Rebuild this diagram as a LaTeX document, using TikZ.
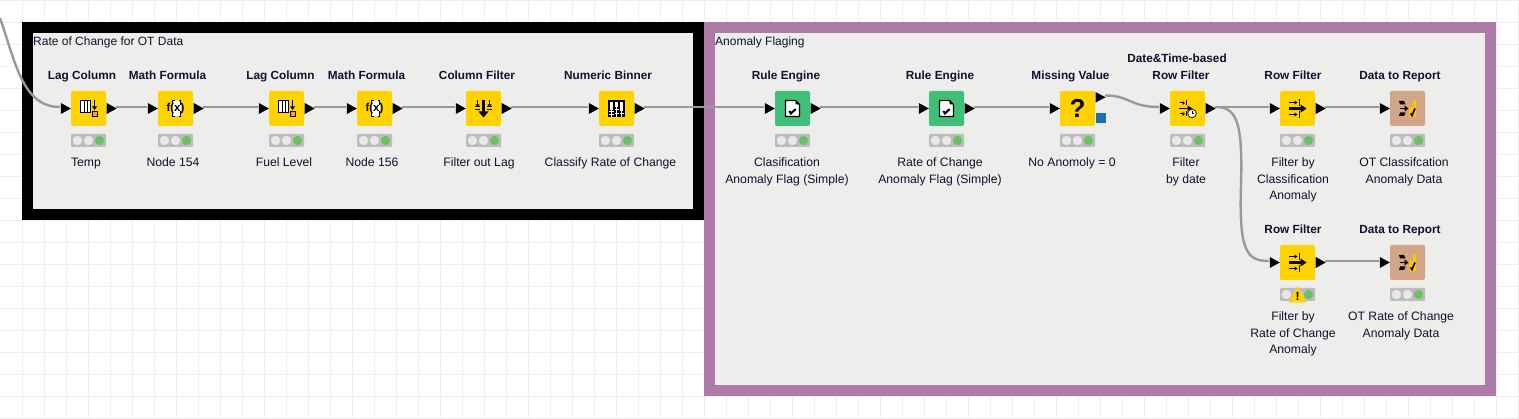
\documentclass[tikz,border=0pt]{standalone}
\usepackage{fontspec}
\setmainfont{Liberation Sans}
\usetikzlibrary{calc}
\definecolor{gridc}{HTML}{EEEEEE}
\definecolor{panelc}{HTML}{EDEDEB}
\definecolor{purplec}{HTML}{AE7BA8}
\definecolor{yellowc}{HTML}{FFD200}
\definecolor{greenc}{HTML}{40BF78}
\definecolor{brownc}{HTML}{D2A586}
\definecolor{wirec}{HTML}{999999}
\definecolor{lightc}{HTML}{BDBDBD}
\definecolor{lampc}{HTML}{E8E8E8}
\definecolor{lampg}{HTML}{6CC160}
\definecolor{orangec}{HTML}{F0A050}
\definecolor{portblue}{HTML}{1F6FB5}
\definecolor{textc}{HTML}{101030}
\tikzset{
  x=1pt,y=-1pt,
  knbox/.style={minimum size=35pt,inner sep=0pt,rounded corners=2pt,draw=none,anchor=center},
  title/.style={font=\bfseries\fontsize{11.8}{16}\selectfont,text=textc,align=center,inner sep=0pt,anchor=base},
  caption/.style={font=\fontsize{12.2}{16.5}\selectfont,text=textc,align=center,inner sep=0pt,anchor=north},
  annot/.style={font=\fontsize{12}{14}\selectfont,text=textc,inner sep=0pt,anchor=west},
  wire/.style={draw=wirec,line width=2.4pt},
}
% \knode{name}{cx}{cy}{colour}{icon macro}
\newcommand{\knode}[5]{%
  \node[knbox,fill=#4] (#1) at (#2,#3) {};
  \coordinate (#1-i) at ($(#1.west)+(-11,-1.5)$);
  \coordinate (#1-o) at ($(#1.east)+(10,-1.5)$);
  \fill[black] ($(#1.west)+(-10,-5.5)$) -- (#1.west) -- ($(#1.west)+(-10,5.5)$) -- cycle;
  \fill[lightc,rounded corners=1pt] ($(#1.center)+(-17.5,25.5)$) rectangle ($(#1.center)+(17.5,38.5)$);
  \fill[lampc] ($(#1.center)+(-11,32)$) circle (4.7);
  \fill[lampc] ($(#1.center)+(0,32)$) circle (4.7);
  \fill[lampg] ($(#1.center)+(11,32)$) circle (4.7);
  \begin{scope}[shift={(#1.center)}]#5\end{scope}
}
\newcommand{\kout}[1]{%
  \fill[black] ($(#1.east)+(0.5,-5.5)$) -- ($(#1.east)+(10.5,0)$) -- ($(#1.east)+(0.5,5.5)$) -- cycle;
}
\newcommand{\iconlag}{%
  \fill[black] (-8.5,-8.5) rectangle (2.5,4.5);
  \fill[white] (-7.5,-7.5) rectangle (-5,3.5);
  \fill[white] (-4,-7.5) rectangle (-1.5,3.5);
  \fill[white] (-0.5,-7.5) rectangle (1.5,3.5);
  \draw[black,line width=1pt] (6,-8.5) -- (6,-1);
  \fill[black] (3.5,-2) -- (8.5,-2) -- (6,1.5) -- cycle;
  \draw[black,fill=orangec,line width=.8pt] (3.5,3) rectangle (8.5,8);
}
\newcommand{\iconmath}{%
  \fill[white] (-3,-8) rectangle (5,8);
  \draw[black,line width=1.2pt] (-1,-8) -- (-3,-8) -- (-3,-3) (-1,8) -- (-3,8) -- (-3,3) (3,-8) -- (5,-8) -- (5,-3) (3,8) -- (5,8) -- (5,3);
  \node[font=\bfseries\fontsize{11.5}{12}\selectfont,inner sep=0pt,text=black] at (0,0) {f(x)};
}
\newcommand{\iconfilter}{%
  \fill[black] (-1.5,-8.5) rectangle (1.5,4);
  \fill[black] (-5,3) -- (5,3) -- (0,9) -- cycle;
  \draw[black,line width=1pt] (-8.5,-2) -- (-3.5,-2) (3.5,-2) -- (8.5,-2);
  \draw[black,line width=1pt] (-8.5,1) -- (-3.5,1) (3.5,1) -- (8.5,1);
  \draw[black,line width=1pt] (-6,-8) -- (-6,-3) (6,-8) -- (6,-3);
  \fill[black] (-8,-4) -- (-4,-4) -- (-6,-1.5) -- cycle;
  \fill[black] (8,-4) -- (4,-4) -- (6,-1.5) -- cycle;
}
\newcommand{\iconbinner}{%
  \fill[black] (-8.5,-8.5) rectangle (8.5,8.5);
  \fill[white] (-6.5,-6.5) rectangle (-3.5,1.5);
  \fill[white] (-1.5,-6.5) rectangle (1.5,-1);
  \fill[white] (3.5,-6.5) rectangle (6.5,3);
  \draw[white,line width=1pt] (-7.5,3) -- (-2.5,3) (-7.5,6) -- (-2.5,6) (-5,1) -- (-5,8.5);
  \draw[white,line width=1pt] (-1.5,1) -- (2.5,1) (-1.5,5) -- (2.5,5) (0,-1) -- (0,8.5);
  \draw[white,line width=1pt] (3.5,5) -- (7.5,5) (5,3) -- (5,8.5);
}
\newcommand{\iconrule}{%
  \draw[black,fill=white,line width=1.3pt] (-7,-8) -- (3,-8) -- (7,-4) -- (7,8) -- (-7,8) -- cycle;
  \fill[black] (3,-8) -- (7,-4) -- (3,-4) -- cycle;
  \draw[black,line width=2pt] (-3.2,2.5) -- (-1.5,5) -- (3.2,0.5);
}
\newcommand{\iconmissing}{%
  \node[font=\bfseries\fontsize{26}{26}\selectfont,inner sep=0pt,text=black] at (0,0) {?};
}
\newcommand{\iconrow}{%
  \draw[black,line width=1.3pt] (-8.7,-6) -- (-2,-6) (-8.7,6) -- (-2,6);
  \fill[black] (-3,-8) -- (0,-6) -- (-3,-4) -- cycle (-3,4) -- (0,6) -- (-3,8) -- cycle;
  \draw[black,line width=1.2pt] (2,-9.5) -- (2,-2.5) (2,2.5) -- (2,9.5);
  \draw[black,line width=2.4pt] (-8.7,0) -- (6,0);
  \fill[black] (3,-4) -- (9,0) -- (3,4) -- cycle;
}
\newcommand{\icondate}{%
  \draw[black,line width=1pt] (-8,-5.5) -- (-4,-5.5) (-8,5.5) -- (-4,5.5);
  \fill[black] (-5,-7.5) -- (-2.5,-5.5) -- (-5,-3.5) -- cycle (-5,3.5) -- (-2.5,5.5) -- (-5,7.5) -- cycle;
  \draw[black,line width=1pt] (-1,-8) -- (-1,-3) (-1,3) -- (-1,8);
  \draw[black,line width=1.4pt] (-8.5,0) -- (2,0);
  \fill[black] (0,-3) -- (5,0) -- (0,3) -- cycle;
  \draw[black!70!yellowc,fill=white,line width=1pt] (4.5,5) circle (4.3);
  \draw[black,line width=.6pt] (4.5,2.5) -- (4.5,5) -- (6.5,5);
}
\newcommand{\iconreport}{%
  \fill[yellowc!85!orange] (1.5,-1.8) rectangle (5,8.2);
  \fill[yellowc!85!orange] (5,-8.5) rectangle (8.5,8.2);
  \fill[black] (-8.5,-7.5) -- (-3.5,-7.5) -- (-2,-4) -- (-7.5,-4) -- cycle;
  \fill[black] (-8.5,7.5) -- (-3.5,7.5) -- (-2,4) -- (-7.5,4) -- cycle;
  \draw[black,line width=1pt] (-8,0) -- (-2,0);
  \fill[black] (-3,-3) -- (1,0) -- (-3,3) -- cycle;
  \draw[black,line width=1.6pt] (3,5) -- (4.5,7) -- (7.5,0);
}
\begin{document}
\begin{tikzpicture}
\useasboundingbox (0,0) rectangle (1519,419);
\fill[white] (0,0) rectangle (1519,419);
\foreach \k in {1,...,69} \draw[gridc,line width=1pt] (22*\k+.5,0) -- (22*\k+.5,419);
\foreach \k in {0,...,19} \draw[gridc,line width=1pt] (0,22*\k+.5) -- (1519,22*\k+.5);

% annotations
\fill[black] (22,22) rectangle (704,220);
\fill[panelc] (33,33) rectangle (693,209);
\fill[purplec] (704,22) rectangle (1496,396);
\fill[panelc] (715,33) rectangle (1485,385);
\node[annot] (annA) at (33,42.5) {Rate of Change for OT Data};
\node[annot] (annB) at (715,42.5) {Anomaly Flaging};

\coordinate (src) at (0,18);

% nodes
\knode{lag1}{88.5}{108.5}{yellowc}{\iconlag}\kout{lag1}
\knode{math1}{175.5}{108.5}{yellowc}{\iconmath}\kout{math1}
\knode{lag2}{286.5}{108.5}{yellowc}{\iconlag}\kout{lag2}
\knode{math2}{374.5}{108.5}{yellowc}{\iconmath}\kout{math2}
\knode{colf}{483.5}{108.5}{yellowc}{\iconfilter}\kout{colf}
\knode{bin}{616.5}{108.5}{yellowc}{\iconbinner}\kout{bin}
\knode{rule1}{792.5}{108.5}{greenc}{\iconrule}\kout{rule1}
\knode{rule2}{946.5}{108.5}{greenc}{\iconrule}\kout{rule2}
\knode{miss}{1077.5}{108.5}{yellowc}{\iconmissing}
\knode{date}{1187.5}{108.5}{yellowc}{\icondate}\kout{date}
\knode{row1}{1297.5}{108.5}{yellowc}{\iconrow}\kout{row1}
\knode{rep1}{1407.5}{108.5}{brownc}{\iconreport}
\knode{row2}{1297.5}{262.5}{yellowc}{\iconrow}\kout{row2}
\knode{rep2}{1407.5}{262.5}{brownc}{\iconreport}

% special ports of Missing Value
\fill[black] (1095.5,92) -- (1105.5,97.3) -- (1095.5,102.6) -- cycle;
\coordinate (miss-o2) at (1105,95.5);
\node[fill=portblue,minimum size=10pt,inner sep=0pt] (missb) at (1101,118.3) {};

% warning
\fill[yellowc] (1297.5,286) -- (1306.5,302.5) -- (1288.5,302.5) -- cycle;
\node[font=\bfseries\fontsize{12}{12}\selectfont,inner sep=0pt] (warn) at (1297.5,296) {!};

% wires
\draw[wire] (src) .. controls (15,60) and (22,107) .. (lag1-i);
\draw[wire] (lag1-o) -- (math1-i);
\draw[wire] (math1-o) -- (lag2-i);
\draw[wire] (lag2-o) -- (math2-i);
\draw[wire] (math2-o) -- (colf-i);
\draw[wire] (colf-o) -- (bin-i);
\draw[wire] (bin-o) -- (rule1-i);
\draw[wire] (rule1-o) -- (rule2-i);
\draw[wire] (rule2-o) -- (miss-i);
\draw[wire] (miss-o2) .. controls (1130,95.5) and (1130,107) .. (date-i);
\draw[wire] (date-o) -- (row1-i);
\draw[wire] (row1-o) -- (rep1-i);
\draw[wire] (row2-o) -- (rep2-i);
\draw[wire] (date-o) .. controls (1236,107) and (1243,120) .. (1241,185) .. controls (1239,250) and (1246,261) .. (row2-i);

% titles
\node[title] (t1) at (82,80) {Lag Column};
\node[title] (t2) at (167.5,80) {Math Formula};
\node[title] (t3) at (280.5,80) {Lag Column};
\node[title] (t4) at (366.5,80) {Math Formula};
\node[title] (t5) at (477,80) {Column Filter};
\node[title] (t6) at (608,80) {Numeric Binner};
\node[title] (t7) at (786,80) {Rule Engine};
\node[title] (t8) at (940,80) {Rule Engine};
\node[title] (t9) at (1070.5,80) {Missing Value};
\node[title] (t10) at (1177,63) {Date\&Time-based};
\node[title] (t11) at (1181,80) {Row Filter};
\node[title] (t12) at (1293,80) {Row Filter};
\node[title] (t13) at (1400,80) {Data to Report};
\node[title] (t14) at (1293,234) {Row Filter};
\node[title] (t15) at (1400,234) {Data to Report};

% captions
\node[caption] (c1) at (86,157.5) {Temp};
\node[caption] (c2) at (173,157.5) {Node 154};
\node[caption] (c3) at (284,157.5) {Fuel Level};
\node[caption] (c4) at (372,157.5) {Node 156};
\node[caption] (c5) at (479,157.5) {Filter out Lag};
\node[caption] (c6) at (610.5,157.5) {Classify Rate of Change};
\node[caption] (c7) at (787,157.5) {Clasification\\Anomaly Flag (Simple)};
\node[caption] (c8) at (940,157.5) {Rate of Change\\Anomaly Flag (Simple)};
\node[caption] (c9) at (1072,157.5) {No Anomoly = 0};
\node[caption] (c10) at (1186,157.5) {Filter\\by date};
\node[caption] (c11) at (1293,157.5) {Filter by\\Classification\\Anomaly};
\node[caption] (c12) at (1404,157.5) {OT Classifcation\\Anomaly Data};
\node[caption] (c13) at (1293,311.5) {Filter by\\Rate of Change\\Anomaly};
\node[caption] (c14) at (1401,311.5) {OT Rate of Change\\Anomaly Data};
\end{tikzpicture}
\end{document}
